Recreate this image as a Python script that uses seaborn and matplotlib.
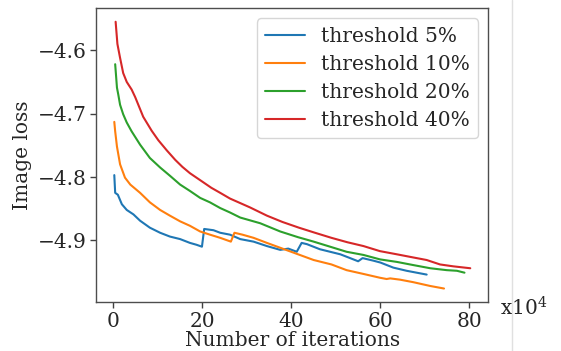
import matplotlib
matplotlib.use("Agg")
import matplotlib.pyplot as plt
import seaborn as sns
import pandas as pd
from matplotlib.lines import Line2D

# iterations in units of 1e4, image loss per threshold
iters_5 = [0.2, 0.4, 1.0, 1.9, 3.0, 4.5, 6.0, 8.2, 10.5, 12.7, 15.0, 17.2, 18.7, 19.9,
           20.4, 22.5, 24.0, 26.2, 28.5, 31.5, 34.5, 37.5, 39.3, 41.2, 42.3, 43.5, 46.4,
           48.7, 51.0, 53.2, 55.0, 56.0, 58.4, 60.0, 62.9, 65.9, 70.4]
loss_5 = [-4.797, -4.825, -4.828, -4.843, -4.852, -4.859, -4.869, -4.880, -4.888, -4.894,
          -4.898, -4.904, -4.907, -4.910, -4.882, -4.884, -4.888, -4.891, -4.898, -4.902,
          -4.909, -4.915, -4.913, -4.918, -4.904, -4.906, -4.914, -4.918, -4.922, -4.928,
          -4.933, -4.928, -4.932, -4.935, -4.943, -4.948, -4.954]

iters_10 = [0.2, 0.4, 0.8, 1.5, 2.6, 3.8, 6.0, 8.2, 10.5, 12.7, 15.0, 17.2, 19.5, 21.7,
            24.0, 26.4, 27.2, 29.0, 31.5, 34.5, 38.0, 41.5, 45.0, 49.0, 52.4, 56.2, 59.9,
            61.4, 62.2, 64.4, 67.4, 71.2, 74.3]
loss_10 = [-4.713, -4.728, -4.752, -4.780, -4.801, -4.812, -4.825, -4.840, -4.852, -4.861,
           -4.870, -4.877, -4.886, -4.891, -4.896, -4.902, -4.888, -4.891, -4.896, -4.904,
           -4.913, -4.922, -4.931, -4.938, -4.947, -4.953, -4.959, -4.961, -4.960, -4.962,
           -4.966, -4.972, -4.976]

iters_20 = [0.4, 0.8, 1.1, 1.5, 2.2, 3.0, 4.1, 6.0, 8.2, 10.5, 12.7, 15.0, 17.2, 19.5,
            21.7, 24.0, 26.2, 28.5, 33.0, 37.5, 41.5, 45.0, 48.7, 52.4, 56.2, 59.9, 63.7,
            67.4, 71.2, 74.9, 77.2, 78.9]
loss_20 = [-4.622, -4.659, -4.670, -4.686, -4.701, -4.714, -4.728, -4.749, -4.770, -4.785,
           -4.798, -4.812, -4.822, -4.833, -4.840, -4.849, -4.856, -4.864, -4.873, -4.886,
           -4.895, -4.902, -4.910, -4.918, -4.923, -4.930, -4.934, -4.939, -4.944, -4.947,
           -4.948, -4.951]

iters_40 = [0.5, 0.9, 1.5, 2.2, 3.0, 4.1, 4.9, 6.7, 8.6, 10.1, 12.0, 13.9, 15.5, 17.2,
            19.5, 22.0, 24.0, 26.2, 30.7, 34.5, 38.0, 41.7, 45.3, 49.0, 52.6, 56.2, 59.9,
            63.7, 67.4, 70.4, 73.4, 76.4, 80.2]
loss_40 = [-4.555, -4.590, -4.612, -4.636, -4.650, -4.662, -4.674, -4.705, -4.727, -4.742,
           -4.758, -4.773, -4.784, -4.794, -4.805, -4.817, -4.825, -4.834, -4.848, -4.861,
           -4.871, -4.880, -4.888, -4.896, -4.903, -4.909, -4.917, -4.922, -4.927, -4.931,
           -4.938, -4.941, -4.944]

labels = ["threshold 5%", "threshold 10%", "threshold 20%", "threshold 40%"]

frames = []
for lab, xs, ys in zip(labels, [iters_5, iters_10, iters_20, iters_40],
                       [loss_5, loss_10, loss_20, loss_40]):
    frames.append(pd.DataFrame({"iter": xs, "loss": ys, "series": lab}))
df = pd.concat(frames, ignore_index=True)

sns.set_style("ticks")
plt.rcParams["font.family"] = ["DejaVu Serif"]
plt.rcParams["mathtext.fontset"] = "dejavuserif"

fs = 14.5

fig = plt.figure(figsize=(5.61, 3.51), dpi=100)
ax = fig.add_axes([0.172, 0.140, 0.698, 0.836])

sns.lineplot(data=df, x="iter", y="loss", hue="series", hue_order=labels,
             palette=sns.color_palette("tab10", 4), linewidth=1.5, ax=ax,
             estimator=None, sort=False)

ax.set_xticks([0, 20, 40, 60, 80])
ax.set_yticks([-4.9, -4.8, -4.7, -4.6])
ax.tick_params(labelsize=fs, length=4, width=1, color="0.25", pad=3)
ax.set_xlabel("Number of iterations", fontsize=fs, labelpad=0)
ax.set_ylabel("Image loss", fontsize=fs, labelpad=4)
for s in ax.spines.values():
    s.set_visible(True)
    s.set_color("0.3")
    s.set_linewidth(1.0)

ax.legend(loc="upper right", fontsize=fs, frameon=True, title=None,
          handlelength=2.0, labelspacing=0.45)

ax.text(1.03, -0.045, "x10$^4$", transform=ax.transAxes, fontsize=fs,
        va="baseline", ha="left")

fig.add_artist(Line2D([512 / 561, 512 / 561], [0, 1], color="0.88", linewidth=1,
                      transform=fig.transFigure))

fig.savefig("out.png", dpi=100)
